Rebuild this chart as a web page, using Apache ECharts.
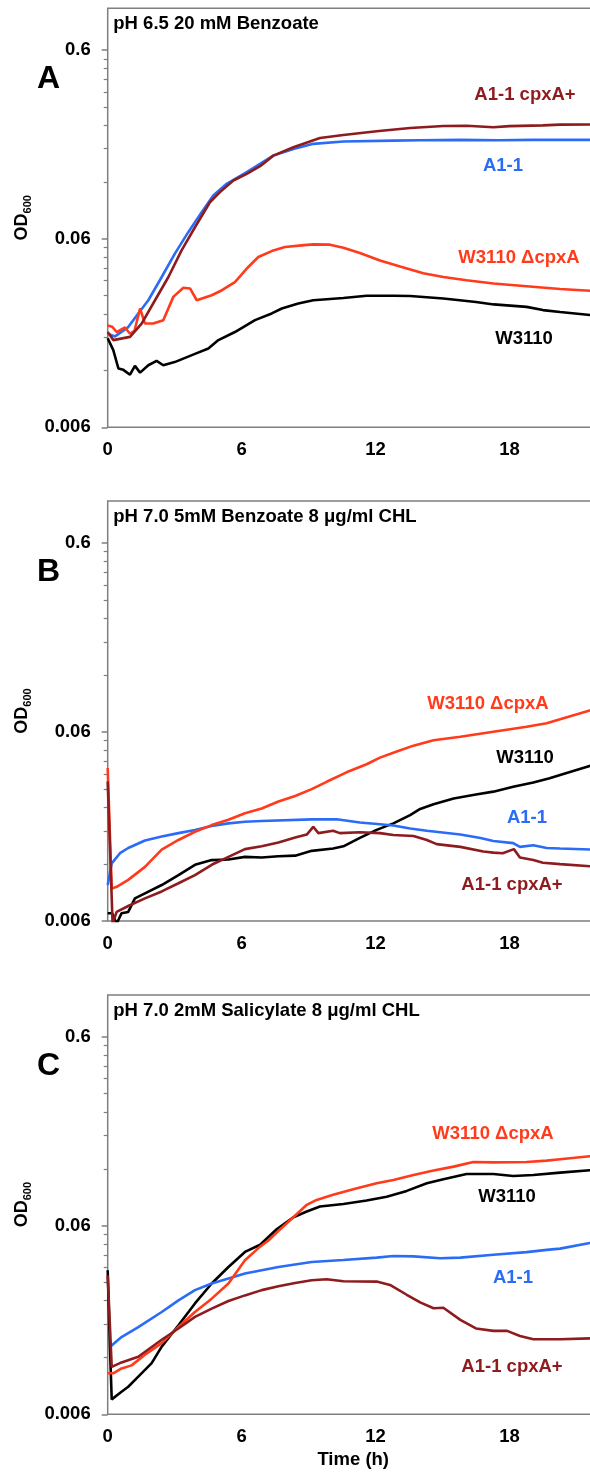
<!DOCTYPE html>
<html>
<head>
<meta charset="utf-8">
<script src="https://cdn.jsdelivr.net/npm/echarts@6.0.0/dist/echarts.min.js"></script>
<style>
  html, body { margin: 0; padding: 0; background: #fff; }
  #chart { width: 590px; height: 1473px; }
</style>
</head>
<body>
<div id="chart"></div>
<script>
  // axis ticks
  const xTicks = [0, 6, 12, 18]
  const yMajor = [0.006, 0.06, 0.6]
  const yMinor = [0.012, 0.018, 0.024, 0.03, 0.036, 0.042, 0.048, 0.054,
    0.12, 0.18, 0.24, 0.3, 0.36, 0.42, 0.48, 0.54]

  const strains = ['W3110', 'A1-1', 'W3110 ΔcpxA', 'A1-1 cpxA+']
  const titles = ['pH 6.5 20 mM Benzoate', 'pH 7.0 5mM Benzoate 8 μg/ml CHL', 'pH 7.0 2mM Salicylate 8 μg/ml CHL']
  const letters = ['A', 'B', 'C']

  // panel A, [time (h), OD600]
  const aW3110 = [[0, 0.0178], [0.25, 0.0154], [0.48, 0.0123], [0.7, 0.0121], [1.0, 0.0114], [1.22, 0.0127], [1.45, 0.0117],
    [1.82, 0.0128], [2.19, 0.0135], [2.49, 0.0128], [3.0, 0.0133], [3.91, 0.0147], [4.51, 0.0157], [4.96, 0.0174],
    [5.7, 0.0192], [6.6, 0.0222], [7.35, 0.0241], [7.8, 0.0256], [8.54, 0.0272], [9.21, 0.0283], [10.56, 0.0291],
    [11.6, 0.0299], [12.8, 0.0299], [13.55, 0.0298], [15.04, 0.0289], [16.5, 0.0277], [17.3, 0.0269], [18.77, 0.0261],
    [19.5, 0.0251], [20.27, 0.0245], [22, 0.0234]]
  const aA11 = [[0, 0.0188], [0.33, 0.0182], [0.92, 0.0204], [1.37, 0.0241], [1.82, 0.0283], [2.42, 0.0376], [3.01, 0.05],
    [3.61, 0.065], [4.21, 0.083], [4.73, 0.1017], [5.33, 0.1173], [6.23, 0.1352], [7.42, 0.1655], [8.32, 0.1795],
    [9.21, 0.1911], [10.56, 0.1965], [12.8, 0.1988], [14, 0.1995], [15.8, 0.2006], [17.5, 0.1998], [19, 0.2006],
    [20.27, 0.2006], [22, 0.2006]]
  const aDelta = [[0, 0.0208], [0.2, 0.0205], [0.4, 0.0192], [0.77, 0.0203], [1.0, 0.0188], [1.2, 0.0195], [1.45, 0.0256],
    [1.67, 0.0213], [2.04, 0.0213], [2.49, 0.0222], [2.94, 0.0295], [3.39, 0.033], [3.69, 0.0327], [3.99, 0.0283],
    [4.66, 0.0301], [5.1, 0.0319], [5.7, 0.0353], [6.3, 0.0425], [6.75, 0.048], [7.35, 0.0516], [7.94, 0.0542],
    [8.69, 0.0553], [9.21, 0.056], [9.96, 0.0558], [10.56, 0.0538], [11.3, 0.0504], [12.2, 0.046], [13.1, 0.0428],
    [14.14, 0.0394], [15.04, 0.0376], [16.08, 0.0361], [17.28, 0.0347], [18.77, 0.0336], [20.27, 0.0325], [22, 0.0316]]
  const aCpxPlus = [[0, 0.0192], [0.25, 0.0174], [1.0, 0.0181], [1.52, 0.0213], [2.12, 0.0283], [2.72, 0.0376],
    [3.31, 0.052], [3.91, 0.069], [4.58, 0.0937], [5.03, 0.106], [5.63, 0.1222], [6.23, 0.1325], [6.83, 0.1454],
    [7.42, 0.1655], [8.32, 0.1833], [9.51, 0.2053], [10.56, 0.213], [12.05, 0.2228], [13.55, 0.2318], [15.04, 0.2377],
    [16.08, 0.2383], [17.28, 0.234], [18.0, 0.2372], [19.5, 0.2395], [20.27, 0.2416], [22, 0.242]]

  // panel B
  const bW3110 = [[0, 0.0066], [0.2, 0.0066], [0.4, 0.0058], [0.62, 0.0066], [0.92, 0.0067], [1.22, 0.0079], [1.67, 0.0084],
    [2.42, 0.0093], [3.17, 0.0105], [3.91, 0.0119], [4.66, 0.0126], [5.41, 0.0127], [6.15, 0.0131], [6.9, 0.013],
    [7.65, 0.0132], [8.4, 0.0133], [9.14, 0.0141], [10.1, 0.0145], [10.56, 0.0149], [11.3, 0.0165], [12.05, 0.0182],
    [12.8, 0.0197], [13.55, 0.0218], [14, 0.0235], [14.6, 0.0249], [15.5, 0.0267], [16.5, 0.028], [17.28, 0.029],
    [18.17, 0.0308], [19.07, 0.0324], [19.8, 0.0341], [20.27, 0.0355], [22, 0.041]]
  const bA11 = [[0, 0.0093], [0.18, 0.0121], [0.55, 0.0137], [0.92, 0.0146], [1.67, 0.016], [2.42, 0.0168], [3.17, 0.0175],
    [3.91, 0.0182], [4.66, 0.0191], [5.41, 0.0197], [6.15, 0.0201], [6.9, 0.0203], [9.14, 0.0207], [10.26, 0.0207],
    [11.3, 0.0199], [12.2, 0.0195], [12.8, 0.0192], [13.55, 0.0185], [14.3, 0.018], [15.8, 0.0172], [16.7, 0.0165],
    [17.28, 0.0159], [18.17, 0.0155], [18.47, 0.0148], [19.07, 0.0151], [19.67, 0.0146], [20.27, 0.0145], [22, 0.0143]]
  const bDelta = [[0, 0.0387], [0.18, 0.0089], [0.4, 0.0091], [0.92, 0.0099], [1.67, 0.0116], [2.42, 0.0143], [3.17, 0.0161],
    [3.91, 0.0178], [4.66, 0.0193], [5.41, 0.0206], [6.15, 0.0223], [6.9, 0.0236], [7.65, 0.0257], [8.4, 0.0275],
    [9.14, 0.0299], [9.81, 0.0327], [10.7, 0.0367], [11.6, 0.0405], [12.2, 0.0439], [12.95, 0.0473], [13.7, 0.0508],
    [14.6, 0.0542], [15.8, 0.0566], [17.28, 0.0602], [18.77, 0.064], [19.67, 0.0667], [20.27, 0.07], [21.6, 0.078],
    [22, 0.08]]
  const bCpxPlus = [[0, 0.0328], [0.22, 0.0058], [0.4, 0.0067], [0.92, 0.0072], [1.67, 0.0079], [2.42, 0.0086], [3.17, 0.0095],
    [3.91, 0.0105], [4.66, 0.0119], [5.41, 0.0131], [6.15, 0.0144], [6.9, 0.0149], [7.65, 0.0156], [8.4, 0.0166],
    [8.92, 0.0172], [9.21, 0.0189], [9.44, 0.0175], [10.1, 0.018], [10.4, 0.0175], [11.3, 0.0177], [12.2, 0.0175],
    [12.8, 0.0171], [13.7, 0.0169], [14.3, 0.0161], [14.74, 0.0153], [15.8, 0.0148], [16.83, 0.014], [17.28, 0.0138],
    [17.7, 0.0137], [18.2, 0.0144], [18.47, 0.013], [19.07, 0.0126], [19.5, 0.0122], [20.27, 0.012], [22, 0.0116]]

  // panel C
  const cW3110 = [[0, 0.0348], [0.1, 0.0137], [0.18, 0.0072], [0.62, 0.0079], [0.92, 0.0084], [1.37, 0.0095], [1.97, 0.0112],
    [2.42, 0.0137], [3.17, 0.0178], [3.91, 0.0232], [4.66, 0.0296], [5.41, 0.0362], [6.15, 0.0435], [6.83, 0.0475],
    [7.57, 0.0574], [8.32, 0.0664], [8.92, 0.0712], [9.51, 0.0757], [10.56, 0.0781], [11.6, 0.0814], [12.5, 0.0854],
    [13.4, 0.0916], [14.3, 0.1005], [15.04, 0.1057], [16.08, 0.1126], [17.28, 0.1126], [18.17, 0.1098], [19.07, 0.1113],
    [20.27, 0.1145], [21.6, 0.1178], [22, 0.118]]
  const cA11 = [[0.15, 0.0138], [0.62, 0.0154], [1.37, 0.0174], [2.42, 0.0209], [3.17, 0.0241], [3.91, 0.0273],
    [4.66, 0.0296], [5.41, 0.0315], [6.15, 0.0334], [6.9, 0.0348], [7.65, 0.0362], [9.14, 0.0385], [10.56, 0.0394],
    [12.05, 0.0406], [12.8, 0.0414], [13.7, 0.0412], [14.9, 0.0403], [15.8, 0.0406], [17.28, 0.042], [18.77, 0.0434],
    [19.67, 0.0446], [20.27, 0.0453], [21.6, 0.0485], [22, 0.049]]
  const cDelta = [[0, 0.0099], [0.25, 0.0099], [0.62, 0.0105], [1.07, 0.0109], [1.67, 0.0124], [2.42, 0.0143], [3.17, 0.0174],
    [3.91, 0.0209], [4.66, 0.0246], [5.41, 0.0296], [6.15, 0.0393], [6.83, 0.0464], [7.2, 0.05], [7.57, 0.0551],
    [8.32, 0.0664], [8.92, 0.0773], [9.36, 0.0821], [10.1, 0.0873], [11.0, 0.0935], [12.05, 0.1005], [12.8, 0.1047],
    [13.7, 0.1113], [14.6, 0.1174], [15.5, 0.1232], [16.38, 0.1304], [17.28, 0.1297], [18.77, 0.1304], [19.67, 0.1325],
    [20.27, 0.1349], [21.6, 0.1397], [22, 0.14]]
  const cCpxPlus = [[0, 0.0327], [0.18, 0.0107], [0.62, 0.0113], [1.37, 0.0121], [2.42, 0.0149], [3.17, 0.0171],
    [3.91, 0.0197], [4.66, 0.0218], [5.41, 0.0239], [6.15, 0.0256], [6.9, 0.0273], [7.65, 0.0286], [8.4, 0.0298],
    [9.14, 0.0308], [9.81, 0.0312], [10.56, 0.0304], [12.05, 0.0303], [12.65, 0.0291], [13.4, 0.0258], [14, 0.0235],
    [14.6, 0.0219], [15.04, 0.022], [15.8, 0.019], [16.5, 0.0171], [17.28, 0.0166], [17.9, 0.0166], [18.47, 0.0156],
    [19.07, 0.015], [20.27, 0.015], [22, 0.0152]]

  const panelData = [
    [aW3110, aA11, aDelta, aCpxPlus],
    [bW3110, bA11, bDelta, bCpxPlus],
    [cW3110, cA11, cDelta, cCpxPlus]
  ]

  // layout
  const colors = ['#000000', '#2a6cf6', '#ff3b1c', '#8e1b1d']
  const fontFamily = '"Liberation Sans", Arial, sans-serif'
  const fontSize = 18.5
  const gridTops = [8.3, 501, 995]
  const gridHeights = [419, 420, 419.3]
  // strain label centres per panel, same order as strains
  const labelPos = [
    [[524, 339], [503, 166], [519, 258], [525, 95]],
    [[525, 758], [527, 818], [488, 704], [512, 885]],
    [[507, 1197], [513, 1278], [493, 1134], [512, 1367]]
  ]

  const chart = echarts.init(document.getElementById('chart'), null, {renderer: 'canvas'})

  const grid = []
  const xAxis = []
  const yAxis = []
  const series = []
  const graphic = []

  panelData.forEach((lines, p) => {
    grid.push({
      left: 107.7,
      right: -8.7,
      top: gridTops[p],
      height: gridHeights[p],
      outerBoundsMode: 'none',
      containLabel: false,
      show: true,
      borderColor: '#7f7f7f',
      borderWidth: 1.5,
      backgroundColor: 'transparent'
    })
    xAxis.push({
      type: 'value',
      gridIndex: p,
      min: 0,
      max: 22,
      interval: 6,
      axisLine: {show: false},
      axisTick: {show: false},
      splitLine: {show: false},
      axisLabel: {
        margin: 13,
        fontSize: fontSize,
        fontWeight: 'bold',
        fontFamily: fontFamily,
        color: '#000',
        formatter: v => (xTicks.indexOf(v) >= 0 ? String(v) : '')
      },
      name: p === 2 ? 'Time (h)' : '',
      nameLocation: 'middle',
      nameGap: 36,
      nameTextStyle: {fontSize: fontSize, fontWeight: 'bold', fontFamily: fontFamily, color: '#000'}
    })
    // major ticks + labels
    yAxis.push({
      type: 'log',
      logBase: 10,
      gridIndex: p,
      position: 'left',
      min: 0.006,
      max: 1,
      axisLine: {show: false},
      splitLine: {show: false},
      axisTick: {show: true, length: 6, customValues: yMajor, lineStyle: {color: '#7f7f7f', width: 1.5}},
      axisLabel: {
        margin: 17,
        fontSize: fontSize,
        fontWeight: 'bold',
        fontFamily: fontFamily,
        color: '#000',
        customValues: yMajor,
        formatter: v => String(+Number(v).toPrecision(3))
      },
      name: '{a|OD}{b|600}',
      nameLocation: 'middle',
      nameRotate: 90,
      nameGap: 72,
      nameTextStyle: {
        rich: {
          a: {fontSize: 18, fontWeight: 'bold', fontFamily: fontFamily, color: '#000', lineHeight: 22},
          b: {fontSize: 11, fontWeight: 'bold', fontFamily: fontFamily, color: '#000', verticalAlign: 'bottom', lineHeight: 22}
        }
      }
    })
    // minor ticks
    yAxis.push({
      type: 'log',
      logBase: 10,
      gridIndex: p,
      position: 'left',
      offset: 0,
      min: 0.006,
      max: 1,
      axisLine: {show: false},
      splitLine: {show: false},
      axisLabel: {show: false},
      axisTick: {show: true, length: 4, customValues: yMinor, lineStyle: {color: '#7f7f7f', width: 1.2}}
    })

    lines.forEach((data, s) => {
      series.push({
        name: strains[s],
        type: 'line',
        xAxisIndex: p,
        yAxisIndex: p * 2,
        data: data,
        symbol: 'none',
        showSymbol: false,
        clip: true,
        lineStyle: {color: colors[s], width: 2.6},
        itemStyle: {color: colors[s]},
        z: 2 + s
      })
      graphic.push({
        type: 'text',
        x: labelPos[p][s][0],
        y: labelPos[p][s][1],
        style: {
          text: strains[s],
          font: 'bold ' + fontSize + 'px ' + fontFamily,
          fill: colors[s],
          align: 'center',
          verticalAlign: 'middle'
        }
      })
    })

    graphic.push({
      type: 'text',
      x: 113.3,
      y: gridTops[p] + 15.5,
      style: {
        text: titles[p],
        font: 'bold ' + fontSize + 'px ' + fontFamily,
        fill: '#000',
        align: 'left',
        verticalAlign: 'middle'
      }
    })
    graphic.push({
      type: 'text',
      x: 48.5,
      y: gridTops[p] + 71,
      style: {
        text: letters[p],
        font: 'bold 32px ' + fontFamily,
        fill: '#000',
        align: 'center',
        verticalAlign: 'middle'
      }
    })
  })

  chart.setOption({
    animation: false,
    backgroundColor: '#fff',
    grid: grid,
    xAxis: xAxis,
    yAxis: yAxis,
    series: series,
    graphic: graphic
  })
</script>
</body>
</html>
